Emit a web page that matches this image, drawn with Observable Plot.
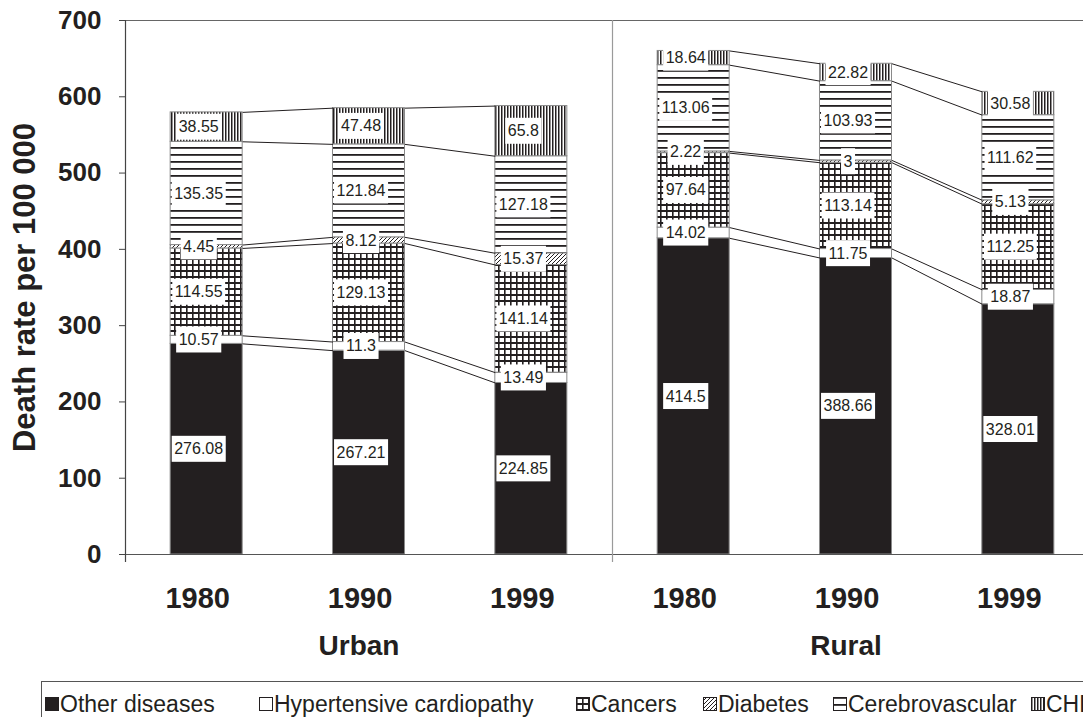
<!DOCTYPE html>
<html><head><meta charset="utf-8">
<script src="https://cdn.jsdelivr.net/npm/d3@7"></script>
<script src="https://cdn.jsdelivr.net/npm/@observablehq/plot@0.6"></script>
<style>
html,body{margin:0;padding:0;background:#fff;overflow:hidden;width:1083px;height:717px}
#chart{position:absolute;left:0;top:0}
#chart svg{max-width:none !important}
#legend{position:absolute;left:41px;top:681px;width:1200px;height:60px;border-top:1px solid #555;border-left:1px solid #555;font-family:"Liberation Sans",Arial,sans-serif;font-size:23px;color:#231f20}
.sw{position:absolute;top:15px}
.lt{position:absolute;top:11px;line-height:23px;white-space:nowrap}
</style></head><body>
<div id="chart"></div>
<div id="legend"></div>
<script>
// ---- data ----
const groups = ["Urban", "Rural"];
const years = ["1980", "1990", "1999"];
const causes = ["Other diseases", "Hypertensive cardiopathy", "Cancers", "Diabetes", "Cerebrovascular", "CHD"];
// values per bar: Urban 1980, Urban 1990, Urban 1999, Rural 1980, Rural 1990, Rural 1999
const otherDiseases = [276.08, 267.21, 224.85, 414.5, 388.66, 328.01];
const hypertensive  = [10.57, 11.3, 13.49, 14.02, 11.75, 18.87];
const cancers       = [114.55, 129.13, 141.14, 97.64, 113.14, 112.25];
const diabetes      = [4.45, 8.12, 15.37, 2.22, 3, 5.13];
const cerebro       = [135.35, 121.84, 127.18, 113.06, 103.93, 111.62];
const chd           = [38.55, 47.48, 65.8, 18.64, 22.82, 30.58];
const yTicks = [0, 100, 200, 300, 400, 500, 600, 700];

const series = [otherDiseases, hypertensive, cancers, diabetes, cerebro, chd];
const fills = ["#231f20", "#ffffff", "url(#p-cancer)", "url(#p-diab)", "url(#p-cereb)", "url(#p-chd)"];
const HW = 0.2218; // half bar width in band steps

// stacked rows
const rows = [];
const tops = [];
groups.forEach((g, gi) => years.forEach((yr, yi) => {
  const i = gi * years.length + yi;
  let cum = 0; tops[i] = [];
  series.forEach((s, k) => {
    const v = s[i];
    rows.push({i, group: g, year: yr, cause: causes[k], value: v, y1: cum, y2: cum + v});
    cum += v; tops[i][k] = cum;
  });
}));
// series lines
const links = [];
groups.forEach((g, gi) => {
  for (let yi = 0; yi < years.length - 1; yi++) {
    const i = gi * years.length + yi;
    causes.forEach((c, k) => links.push({x1: i + HW, x2: i + 1 - HW, y1: tops[i][k], y2: tops[i + 1][k]}));
  }
});
const nBars = groups.length * years.length;
const barIdx = d3.range(nBars);
const dividers = d3.range(groups.length + 1).map(g => g * years.length - 0.5);

const ink = "#231f20";
const svg = Plot.plot({
  width: 1099, height: 672,
  marginLeft: 125, marginRight: 0, marginTop: 20, marginBottom: 118,
  style: {fontFamily: "'Liberation Sans', Arial, sans-serif", color: ink, background: "white", overflow: "visible", maxWidth: "none"},
  x: {type: "linear", domain: [-0.5, nBars - 0.5], axis: null},
  y: {domain: [0, 700], axis: null},
  color: {type: "ordinal", domain: causes, range: fills},
  marks: [
    Plot.rectY(rows, {x1: d => d.i - HW, x2: d => d.i + HW, y1: "y1", y2: "y2", fill: "cause", stroke: "#8a8a8a", strokeWidth: 1}),
    Plot.link(links, {x1: "x1", x2: "x2", y1: "y1", y2: "y2", stroke: ink, strokeWidth: 1}),
    Plot.text(rows, {x: "i", y: d => (d.y1 + d.y2) / 2, text: d => String(d.value), dx: -8, fontSize: 16, fill: ink}),
    Plot.ruleY([yTicks[yTicks.length - 1]], {stroke: "#666", strokeWidth: 1.2}),
    Plot.ruleY([0], {stroke: "#555", strokeWidth: 1.2}),
    Plot.ruleX(dividers.slice(1), {y1: -10.5, y2: 700, stroke: "#9a9a9a", strokeWidth: 1.2}),
    Plot.ruleX(dividers.slice(0, 1), {y1: -10.5, y2: 700, stroke: "#444", strokeWidth: 1.2}),
    Plot.axisY(yTicks, {tickSize: 6, tickPadding: 18, fontSize: 26, fontWeight: "bold", label: null, stroke: "#444"}),
    Plot.axisX(barIdx, {tickSize: 0, tickPadding: 33, dx: -9, fontSize: 29, fontWeight: "bold", label: null, tickFormat: i => years[i % years.length]}),
    Plot.text(groups, {x: (d, gi) => gi * years.length + (years.length - 1) / 2, frameAnchor: "bottom", dy: 100, dx: -10, fontSize: 28, fontWeight: "bold", fill: ink}),
    Plot.text(["Death rate per 100 000"], {frameAnchor: "left", textAnchor: "middle", rotate: -90, dx: -100, fontSize: 31, fontWeight: "bold", fill: ink})
  ]
});
svg.style.maxWidth = "none";
document.getElementById("chart").append(svg);

// patterns
const patDefs = `
<pattern id="p-cancer" width="6" height="6" patternUnits="userSpaceOnUse">
  <rect width="6" height="6" fill="#fff"/><rect x="0" y="0" width="6" height="2" fill="${ink}"/><rect x="0" y="0" width="1.6" height="6" fill="${ink}"/>
</pattern>
<pattern id="p-diab" width="4" height="4" patternUnits="userSpaceOnUse">
  <rect width="4" height="4" fill="#fff"/><path d="M-1,1 l2,-2 M0,4 l4,-4 M3,5 l2,-2" stroke="${ink}" stroke-width="1"/>
</pattern>
<pattern id="p-cereb" width="8" height="7" patternUnits="userSpaceOnUse">
  <rect width="8" height="7" fill="#fff"/><rect x="0" y="0" width="8" height="1.8" fill="${ink}"/>
</pattern>
<pattern id="p-chd" width="3" height="6" patternUnits="userSpaceOnUse">
  <rect width="3" height="6" fill="#fff"/><rect x="0" y="0" width="1.5" height="6" fill="${ink}"/>
</pattern>`;
const defs = document.createElementNS("http://www.w3.org/2000/svg", "defs");
defs.innerHTML = patDefs;
svg.insertBefore(defs, svg.firstChild);

// white boxes behind segment labels
const labelSet = new Set(rows.map(d => String(d.value)));
Array.from(svg.querySelectorAll("text")).forEach(t => {
  const g = t.closest("g");
  if (!g || g.getAttribute("font-size") !== "16" || !labelSet.has(t.textContent)) return;
  const bb = t.getBBox();
  const cy = bb.y + bb.height / 2;
  const r = document.createElementNS("http://www.w3.org/2000/svg", "rect");
  r.setAttribute("x", bb.x - 2.5);
  r.setAttribute("y", cy - 13);
  r.setAttribute("width", bb.width + 5);
  r.setAttribute("height", 26);
  r.setAttribute("fill", "#fff");
  const tr = t.getAttribute("transform");
  if (tr) r.setAttribute("transform", tr);
  t.parentNode.insertBefore(r, t);
});

// legend
const legendX = [3, 217, 534, 661, 791, 989];
const leg = document.getElementById("legend");
causes.forEach((c, k) => {
  const s = document.createElementNS("http://www.w3.org/2000/svg", "svg");
  s.setAttribute("width", 14); s.setAttribute("height", 14);
  s.setAttribute("class", "sw");
  s.style.left = legendX[k] + "px";
  s.innerHTML = `<rect x="0.5" y="0.5" width="13" height="13" fill="${fills[k]}" stroke="${ink}" stroke-width="1"/>`;
  leg.append(s);
  const t = document.createElement("div");
  t.className = "lt";
  t.style.left = (legendX[k] + 15) + "px";
  t.textContent = c;
  leg.append(t);
});
</script>
</body></html>
